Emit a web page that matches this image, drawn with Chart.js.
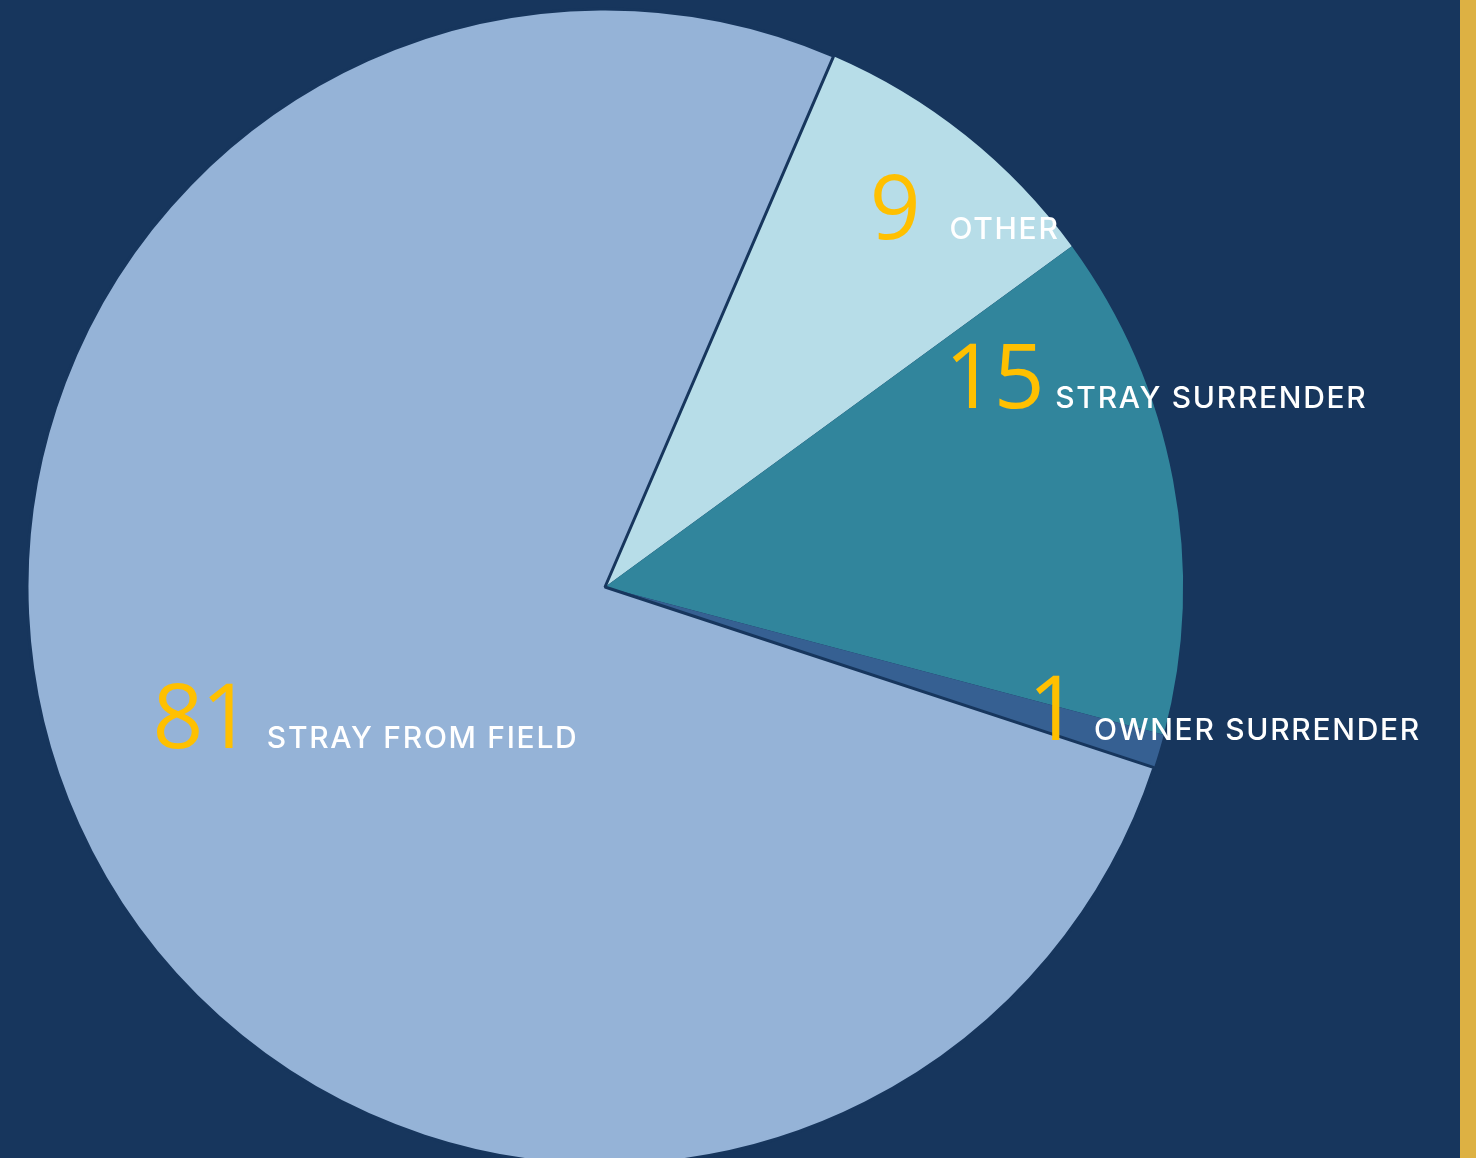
<!DOCTYPE html>
<html>
<head>
<meta charset="utf-8">
<script src="https://cdn.jsdelivr.net/npm/chart.js@4.4.1/dist/chart.umd.min.js"></script>
<style>
  html, body { margin: 0; padding: 0; background: #17365d; }
  body { width: 1476px; height: 1158px; overflow: hidden; position: relative; }
  #wrap { position: absolute; left: 0; top: 0; width: 1460px; height: 1158px; }
  #stripe { position: absolute; left: 1460px; top: 0; width: 16px; height: 1158px; background: #ddb143; }
</style>
</head>
<body>
<div id="wrap"><canvas id="pieChart"></canvas></div>
<div id="stripe"></div>
<script>
// data, in drawing order (clockwise from "Other")
const categories = ["OTHER", "STRAY SURRENDER", "OWNER SURRENDER", "STRAY FROM FIELD"];
const counts = [9, 15, 1, 81];
const sliceColors = ["#b7dde8", "#31859c", "#366092", "#95b3d7"];

// label placement, in radius units from the pie centre:
// [number x, baseline y, caption x]
const labelSpots = [
    [0.458, -0.602, 0.596],
    [0.588, -0.309, 0.779],
    [0.732, 0.265, 0.846],
    [-0.783, 0.279, -0.585]
];

const bg = "#17365d";

const labelPlugin = {
    id: "sliceLabels",
    afterDraw(chart) {
        const ctx = chart.ctx;
        const arc = chart.getDatasetMeta(0).data[0];
        const cx = arc.x, cy = arc.y, r = arc.outerRadius;
        ctx.save();
        ctx.textBaseline = "alphabetic";
        ctx.textAlign = "left";
        categories.forEach(function (name, i) {
            const y = cy + labelSpots[i][1] * r;
            ctx.font = "400 89px 'Open Sans'";
            ctx.letterSpacing = "-2px";
            ctx.fillStyle = "#ffc000";
            ctx.fillText(String(counts[i]), cx + labelSpots[i][0] * r, y);
            ctx.font = "500 30px Inter";
            ctx.letterSpacing = "1.7px";
            ctx.fillStyle = "#ffffff";
            ctx.fillText(name, cx + labelSpots[i][2] * r, y);
        });
        ctx.restore();
    }
};

const ctx = document.getElementById("pieChart").getContext("2d");
const chart = new Chart(ctx, {
    type: "pie",
    data: {
        labels: categories,
        datasets: [{
            data: counts,
            backgroundColor: sliceColors,
            borderColor: bg,
            borderWidth: [0, 0, 0, 3]
        }]
    },
    options: {
        responsive: true,
        maintainAspectRatio: false,
        animation: false,
        rotation: 23.3,
        radius: 578,
        layout: { padding: { left: 0, right: 250, top: 16, bottom: 0 } },
        plugins: {
            legend: { display: false },
            tooltip: { enabled: false }
        }
    },
    plugins: [labelPlugin]
});
</script>
</body>
</html>
